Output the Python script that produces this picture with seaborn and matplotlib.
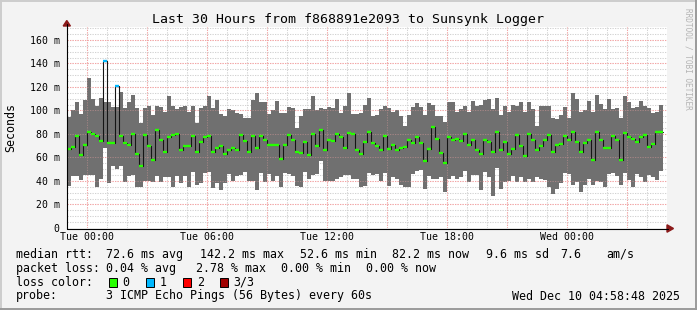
import numpy as np
import pandas as pd
import matplotlib
matplotlib.use("Agg")
import matplotlib.pyplot as plt
import seaborn as sns
from matplotlib.patches import Polygon, Rectangle
from matplotlib.lines import Line2D

# ---------------- data (ms), one bar per 12 minutes starting Mon 23:00 ----------------
smoke_max = [94.5, 100, 107, 97, 109, 128, 110, 104, 111, 107,
             107, 103, 103, 116, 102, 107, 113, 102, 89, 102,
             104, 96, 104, 103, 99, 112, 104, 101, 103, 104,
             99, 104, 89, 102, 104, 112, 102, 109, 97, 95,
             101, 100, 98, 97, 94, 94, 109, 115, 107, 107,
             97, 100, 108, 98, 98, 103, 102, 85, 95, 101,
             101, 112, 100, 102, 101, 103, 102, 110, 98, 104,
             115,
             97, 97, 98, 105, 111, 95, 96.5, 101, 104, 102,
             99, 100, 95, 87, 96.5, 103, 106, 103, 96, 106,
             105, 95, 95, 90, 107, 107, 99, 101, 104, 99,
             108, 104, 105, 109, 110, 101.5, 111, 96, 104, 99,
             105, 104, 107.5, 99, 107, 101, 87, 104, 104, 103.5,
             94, 92.5, 96, 103, 94, 114.5, 110, 98.5, 100, 108,
             98.5, 113.5, 105.5, 101.5, 109.5, 101, 102, 94, 112.5, 107,
             102, 103, 108, 104, 102, 98, 98.5, 105]

smoke_min = [36, 44, 44, 41, 45, 45, 45.5, 34.5, 42, 68,
             38, 53, 50, 53, 39, 44, 45, 35, 35, 40,
             40, 39, 44, 39, 43, 43, 35, 44, 38, 44,
             35, 48, 37, 38, 47, 48, 34, 38, 32.5, 38,
             46, 40, 44, 45, 48, 40, 40, 32.5, 47, 39,
             46, 40, 44, 34.5, 47, 46, 44, 36, 35, 48,
             42, 45.5, 46, 57, 40, 40, 40, 42, 43, 45,
             45,
             41.5, 41.5, 34.5, 36, 47, 45, 46, 40, 47, 36,
             43, 42, 36.5, 35, 34.5, 46, 48.6, 49.5, 33.6, 44,
             42, 42, 43, 31, 42, 44, 42, 43, 48.6, 39,
             45, 45.5, 32.5, 48, 43, 27, 51, 33.6, 39, 40,
             44, 39, 43, 39, 42, 39, 43, 42, 41, 35,
             29, 33.6, 38, 47, 46, 37, 39, 31, 37, 41.5,
             36.5, 40, 39, 35, 46, 47, 44, 37, 47, 41,
             35, 46, 43, 39, 45, 43, 41, 48.6]

median_rtt = [67, 69, 78, 62, 71, 82, 80, 78, 74, 142,
              72, 72, 121, 78, 72, 71, 80, 63, 53, 79,
              70, 58, 83, 75, 65, 77, 79, 80, 66, 70,
              70, 78, 65, 73, 77, 78, 65, 68, 70, 63,
              66, 68, 66, 79, 74, 65, 78, 68, 78, 75,
              71, 71, 71, 59, 71, 79, 75, 65, 64, 73,
              62, 80, 70, 83, 66, 75, 74, 80, 77, 68,
              81,
              80, 66, 63, 73, 82, 72, 70, 66, 78, 67,
              71, 66, 68, 69, 75, 72, 77, 72, 57, 67,
              86, 76, 63.5, 55.6, 77.5, 74.6, 76, 74, 80, 71,
              75, 66, 63, 75, 73, 65, 82, 66, 73, 63,
              67, 79, 70, 61, 80, 75, 66, 70, 75, 79,
              65, 71, 71.5, 78, 75, 82, 73, 65, 72, 75,
              58, 82, 75, 68, 68, 78, 75, 58, 81, 77,
              76, 73, 77, 79, 69, 71.5, 82, 82]

loss_level = [0] * len(median_rtt)
loss_level[9] = 1
loss_level[12] = 1

loss_colors = ["#26ff00", "#00b8ff", "#ff0000", "#a00000"]
loss_labels = ["0", "1", "2", "3/3"]

tick_hours = [0, 6, 12, 18, 24]
tick_labels = ["Tue 00:00", "Tue 06:00", "Tue 12:00", "Tue 18:00", "Wed 00:00"]
ytick_vals = [0, 20, 40, 60, 80, 100, 120, 140, 160]
ytick_labels = ["0"] + [f"{v} m" for v in ytick_vals[1:]]

# ---------------- styling ----------------
sns.set_theme(style="white")
plt.rcParams['font.family'] = ['DejaVu Sans Mono', 'DejaVu Sans']

W, H = 697, 310
fig = plt.figure(figsize=(W / 100, H / 100), dpi=100)
fig.patch.set_facecolor('#f3f3f3')


def fx(x):
    return x / W


def fy(y):
    return 1 - y / H


ax = fig.add_axes([fx(67), fy(228), 600 / W, 201 / H])
ax.set_facecolor('white')
ax.grid(False)
for s in ax.spines.values():
    s.set_visible(False)

n = len(median_rtt)
t0, dt = -1.0, 0.2
starts = t0 + dt * np.arange(n)
ends = starts + dt
edges = np.append(starts, ends[-1])
mx = np.array(smoke_max, dtype=float)
mn = np.array(smoke_min, dtype=float)
md = np.array(median_rtt, dtype=float)

# smoke
ax.fill_between(edges, np.append(mn, mn[-1]), np.append(mx, mx[-1]), step='post',
                color='#707070', linewidth=0, zorder=1)

# grid
minor_c, major_c = '#d2d2d2', '#f2a4a4'
dots = (0, (1.2, 1.2))
for h in range(0, 29):
    if h % 3 == 0:
        ax.axvline(h, color=major_c, lw=0.75, ls=dots, zorder=0.5)
        ax.axvline(h, color=major_c, lw=0.75, ls=dots, zorder=2, alpha=0.35)
    else:
        ax.axvline(h, color=minor_c, lw=0.75, ls=dots, zorder=0.5)
for v in range(5, 171, 5):
    if v % 20 == 0:
        ax.axhline(v, color=major_c, lw=0.75, ls=dots, zorder=0.5)
        ax.axhline(v, color=major_c, lw=0.75, ls=dots, zorder=2, alpha=0.4)
    else:
        ax.axhline(v, color=minor_c, lw=0.75, ls=dots, zorder=0.5)

# median step line
df = pd.DataFrame({'t': edges, 'ms': np.append(md, md[-1])})
sns.lineplot(data=df, x='t', y='ms', drawstyle='steps-post', color='#151515',
             linewidth=0.8, ax=ax, zorder=3, estimator=None)
# coloured median markers
ax.hlines(md, starts, ends, colors=[loss_colors[l] for l in loss_level],
          linewidth=1.7, zorder=4, capstyle='butt')

ax.set_xlim(-1, 29)
ax.set_ylim(0, 171)
ax.set_xticks(tick_hours)
ax.set_xticklabels(tick_labels)
ax.set_yticks(ytick_vals)
ax.set_yticklabels(ytick_labels)
ax.tick_params(axis='x', length=0, pad=3.2, labelsize=7.1, colors='black')
ax.tick_params(axis='y', length=0, pad=5.4, labelsize=7.1, colors='black')
ax.set_xlabel('')
ax.set_ylabel('')

# axes lines & arrows
fig.add_artist(Line2D([fx(66.5), fx(668)], [fy(228.5), fy(228.5)], color='black', lw=0.8))
fig.add_artist(Line2D([fx(66.8), fx(66.8)], [fy(228.5), fy(24)], color='black', lw=0.8))
fig.add_artist(Polygon([[fx(667), fy(224.8)], [fx(673.5), fy(228.5)], [fx(667), fy(232.2)]],
                       closed=True, color='#8b1a1a', transform=fig.transFigure))
fig.add_artist(Polygon([[fx(63.2), fy(26)], [fx(66.8), fy(20.5)], [fx(70.4), fy(26)]],
                       closed=True, color='#8b1a1a', transform=fig.transFigure))

# title and labels
fig.text(fx(347.5), fy(19.3), "Last 30 Hours from f868891e2093 to Sunsynk Logger",
         ha='center', va='center', fontsize=9.5, color='black')
fig.text(fx(11), fy(127.5), "Seconds", rotation=90, ha='center', va='center',
         fontsize=8.4, color='black')
fig.text(fx(688), fy(59), "RRDTOOL / TOBI OETIKER", rotation=270, ha='center',
         va='center', fontsize=5.6, color='#b4b4b4')

LFS = 8.4
legend_rows = [
    (254.3, [(15.5, "median rtt:"), (106.5, "72.6 ms avg"), (199.5, "142.2 ms max"),
             (299.5, "52.6 ms min"), (392.5, "82.2 ms now"), (485.5, "9.6 ms sd"),
             (560.5, "7.6"), (606.5, "am/s")]),
    (268.3, [(15.5, "packet loss:"), (106.5, "0.04 % avg"), (196.0, "2.78 % max"),
             (281.0, "0.00 % min"), (366.0, "0.00 % now")]),
    (282.3, [(15.5, "loss color:")]),
    (296.0, [(15.5, "probe:"), (106.5, "3 ICMP Echo Pings (56 Bytes) every 60s")]),
]
for yy, items in legend_rows:
    for xx, s in items:
        fig.text(fx(xx), fy(yy), s, ha='left', va='center', fontsize=LFS, color='black')
fig.text(fx(680.5), fy(296.0), "Wed Dec 10 04:58:48 2025", ha='right', va='center',
         fontsize=LFS, color='black')

box_x = [108.7, 145.7, 182.7, 219.5]
for bx, c, lab in zip(box_x, loss_colors, loss_labels):
    fig.add_artist(Rectangle((fx(bx), fy(286.7)), 8 / W, 8.3 / H, facecolor=c,
                             edgecolor='black', lw=0.7, transform=fig.transFigure))
    fig.text(fx(bx + 14), fy(282.3), lab, ha='left', va='center', fontsize=LFS, color='black')

# frame
fig.add_artist(Line2D([0, 1], [fy(0.7), fy(0.7)], color='#cccccc', lw=1.4))
fig.add_artist(Line2D([fx(0.7), fx(0.7)], [0, 1], color='#cccccc', lw=1.4))
fig.add_artist(Line2D([0, 1], [fy(309.2), fy(309.2)], color='#9a9a9a', lw=1.4))
fig.add_artist(Line2D([fx(696.2), fx(696.2)], [0, 1], color='#9a9a9a', lw=1.4))

fig.savefig("out.png", dpi=100, facecolor=fig.get_facecolor())
